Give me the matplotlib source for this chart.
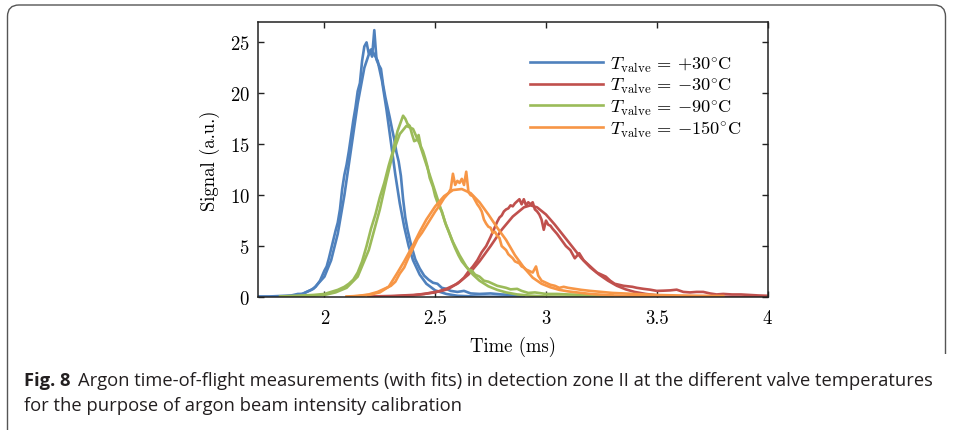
import numpy as np
import matplotlib.pyplot as plt
from matplotlib.patches import FancyBboxPatch
from matplotlib.ticker import FormatStrFormatter

plt.rcParams['font.family'] = 'serif'
plt.rcParams['font.serif'] = ['cmr10']
plt.rcParams['mathtext.fontset'] = 'cm'
plt.rcParams['axes.formatter.use_mathtext'] = True

# measured time-of-flight traces: columns are time (ms), signal (a.u.)
meas_p30 = np.array([
    [1.70, 0.05], [1.75, 0.05], [1.80, 0.1], [1.85, 0.15], [1.88, 0.3], [1.90, 0.3],
    [1.92, 0.5], [1.94, 0.7], [1.96, 1.0], [1.98, 1.6], [2.00, 2.6], [2.01, 3.0],
    [2.02, 3.8], [2.03, 4.7], [2.04, 5.6], [2.05, 6.5], [2.06, 7.3], [2.07, 8.6],
    [2.08, 10.6], [2.09, 12.0], [2.10, 13.0], [2.11, 14.3], [2.12, 15.8], [2.13, 17.3],
    [2.14, 18.6], [2.15, 20.2], [2.16, 21.0], [2.17, 23.2], [2.18, 24.6], [2.19, 25.0],
    [2.20, 23.9], [2.21, 24.3], [2.215, 23.6], [2.225, 26.2], [2.235, 23.3], [2.245, 22.8],
    [2.255, 22.4], [2.265, 20.8], [2.275, 19.6], [2.285, 18.6], [2.295, 17.6], [2.305, 16.5],
    [2.315, 15.5], [2.325, 14.2], [2.335, 13.3], [2.345, 11.9], [2.355, 9.6], [2.365, 7.8],
    [2.375, 6.6], [2.39, 5.2], [2.41, 3.7], [2.43, 2.8], [2.45, 2.1], [2.47, 1.7],
    [2.49, 1.4], [2.51, 1.3], [2.53, 0.9], [2.55, 0.8], [2.57, 0.6], [2.60, 0.5],
    [2.63, 0.6], [2.66, 0.35], [2.70, 0.3], [2.75, 0.35], [2.80, 0.25], [2.85, 0.2],
    [2.90, 0.15]])

meas_m30 = np.array([
    [2.20, 0.05], [2.30, 0.1], [2.40, 0.2], [2.45, 0.3], [2.50, 0.5], [2.53, 0.6],
    [2.56, 0.8], [2.59, 1.2], [2.61, 1.5], [2.63, 1.9], [2.65, 2.5], [2.67, 3.0],
    [2.69, 3.6], [2.71, 4.4], [2.73, 5.0], [2.75, 5.9], [2.76, 6.4], [2.77, 6.9],
    [2.78, 7.4], [2.79, 7.8], [2.80, 8.0], [2.81, 8.4], [2.82, 8.6], [2.83, 8.7],
    [2.84, 9.0], [2.85, 8.9], [2.86, 9.2], [2.87, 9.4], [2.88, 9.6], [2.89, 9.1],
    [2.90, 9.6], [2.91, 9.0], [2.92, 9.3], [2.93, 9.1], [2.94, 9.3], [2.95, 8.6],
    [2.96, 8.4], [2.97, 8.1], [2.98, 7.6], [2.99, 6.6], [3.00, 7.5], [3.01, 7.1],
    [3.02, 7.0], [3.03, 6.7], [3.05, 6.2], [3.07, 5.6], [3.09, 5.0], [3.11, 4.6],
    [3.13, 3.8], [3.15, 4.3], [3.17, 3.6], [3.19, 3.2], [3.21, 2.8], [3.23, 2.4],
    [3.25, 2.2], [3.27, 2.0], [3.29, 1.6], [3.31, 1.3], [3.33, 1.2], [3.35, 1.1],
    [3.37, 1.05], [3.39, 1.0], [3.41, 0.9], [3.44, 0.8], [3.47, 0.72], [3.50, 0.6],
    [3.53, 0.62], [3.56, 0.65], [3.59, 0.72], [3.62, 0.5], [3.65, 0.45], [3.68, 0.5],
    [3.71, 0.5], [3.74, 0.35], [3.77, 0.25], [3.80, 0.3], [3.84, 0.25], [3.88, 0.25],
    [3.92, 0.2], [3.96, 0.15], [4.00, 0.12]])

meas_m90 = np.array([
    [1.80, 0.05], [1.85, 0.1], [1.90, 0.15], [1.95, 0.2], [2.00, 0.3], [2.03, 0.5],
    [2.06, 0.7], [2.09, 1.0], [2.11, 1.3], [2.13, 1.7], [2.15, 2.4], [2.17, 3.5],
    [2.19, 5.0], [2.21, 6.7], [2.23, 8.1], [2.25, 9.8], [2.27, 11.2], [2.29, 12.9],
    [2.31, 14.4], [2.33, 16.3], [2.345, 17.2], [2.355, 17.8], [2.365, 17.5], [2.375, 17.0],
    [2.385, 16.8], [2.395, 16.0], [2.405, 15.3], [2.415, 15.4], [2.425, 15.9], [2.435, 14.8],
    [2.445, 14.3], [2.455, 13.6], [2.465, 12.8], [2.475, 11.7], [2.49, 10.8], [2.50, 9.9],
    [2.515, 9.0], [2.53, 8.4], [2.545, 7.3], [2.56, 6.5], [2.575, 5.6], [2.59, 4.8],
    [2.605, 4.1], [2.62, 3.5], [2.635, 3.1], [2.65, 2.7], [2.665, 2.6], [2.68, 2.2],
    [2.70, 2.0], [2.72, 1.6], [2.74, 1.5], [2.76, 1.3], [2.78, 1.1], [2.80, 1.0],
    [2.82, 0.9], [2.84, 0.75], [2.87, 0.8], [2.89, 0.6], [2.92, 0.4], [2.95, 0.45],
    [3.00, 0.3], [3.05, 0.3], [3.10, 0.25], [3.20, 0.2], [3.30, 0.15]])

meas_m150 = np.array([
    [2.10, 0.05], [2.15, 0.1], [2.20, 0.25], [2.24, 0.5], [2.27, 0.8], [2.30, 1.1],
    [2.32, 1.5], [2.34, 2.3], [2.36, 2.9], [2.38, 3.9], [2.40, 4.8], [2.42, 5.7],
    [2.44, 6.3], [2.46, 7.0], [2.48, 7.7], [2.50, 8.4], [2.52, 9.0], [2.54, 9.7],
    [2.56, 10.2], [2.57, 10.6], [2.58, 12.1], [2.59, 11.0], [2.60, 11.4], [2.61, 11.2],
    [2.62, 11.6], [2.63, 11.0], [2.64, 12.3], [2.65, 10.3], [2.66, 10.0], [2.67, 9.9],
    [2.68, 9.5], [2.69, 9.1], [2.70, 8.8], [2.71, 8.4], [2.72, 7.6], [2.73, 7.2],
    [2.74, 6.9], [2.75, 6.8], [2.76, 6.3], [2.77, 6.4], [2.78, 6.0], [2.79, 5.8],
    [2.80, 5.0], [2.81, 4.8], [2.82, 4.6], [2.83, 4.2], [2.84, 4.0], [2.85, 3.8],
    [2.86, 3.5], [2.87, 3.4], [2.88, 3.3], [2.89, 3.0], [2.90, 2.9], [2.91, 2.7],
    [2.92, 2.6], [2.93, 2.5], [2.94, 2.4], [2.955, 3.0], [2.965, 2.1], [2.98, 1.6],
    [3.00, 1.4], [3.02, 1.2], [3.04, 1.1], [3.06, 0.9], [3.08, 1.0], [3.10, 0.9],
    [3.13, 0.8], [3.16, 0.7], [3.20, 0.6], [3.25, 0.5], [3.30, 0.4], [3.35, 0.35],
    [3.40, 0.3], [3.45, 0.25], [3.50, 0.2], [3.60, 0.15], [3.70, 0.12], [3.80, 0.1]])

# fitted curves
fit_p30 = np.array([
    [1.70, 0.0], [1.80, 0.02], [1.85, 0.1], [1.90, 0.3], [1.95, 0.8], [2.00, 2.0],
    [2.03, 3.6], [2.06, 6.2], [2.09, 10.0], [2.12, 14.5], [2.15, 19.0], [2.18, 22.5],
    [2.20, 23.8], [2.22, 24.0], [2.24, 23.2], [2.26, 21.2], [2.28, 18.4], [2.30, 15.2],
    [2.32, 12.0], [2.34, 9.2], [2.36, 6.9], [2.38, 5.0], [2.40, 3.6], [2.43, 2.2],
    [2.46, 1.3], [2.50, 0.65], [2.55, 0.3], [2.60, 0.12], [2.70, 0.03], [2.90, 0.0]])

fit_m30 = np.array([
    [2.20, 0.0], [2.30, 0.05], [2.40, 0.15], [2.50, 0.45], [2.55, 0.8], [2.60, 1.3],
    [2.65, 2.2], [2.70, 3.5], [2.75, 5.0], [2.80, 6.6], [2.85, 7.9], [2.90, 8.8],
    [2.93, 9.0], [2.96, 8.8], [3.00, 8.1], [3.04, 7.1], [3.08, 6.0], [3.12, 4.9],
    [3.16, 3.8], [3.20, 2.9], [3.24, 2.2], [3.28, 1.6], [3.32, 1.1], [3.36, 0.75],
    [3.40, 0.5], [3.45, 0.3], [3.50, 0.17], [3.60, 0.06], [3.70, 0.02], [4.00, 0.0]])

fit_m90 = np.array([
    [1.80, 0.0], [1.90, 0.05], [2.00, 0.2], [2.05, 0.45], [2.10, 0.9], [2.15, 2.0],
    [2.20, 4.6], [2.25, 8.6], [2.28, 11.5], [2.31, 14.2], [2.34, 16.0], [2.37, 16.8],
    [2.40, 16.5], [2.43, 15.0], [2.46, 13.0], [2.49, 11.0], [2.52, 9.0], [2.55, 7.0],
    [2.58, 5.4], [2.61, 4.1], [2.64, 3.0], [2.67, 2.2], [2.70, 1.6], [2.74, 1.05],
    [2.78, 0.7], [2.82, 0.45], [2.87, 0.25], [2.92, 0.15], [3.00, 0.05], [3.30, 0.0]])

fit_m150 = np.array([
    [2.10, 0.0], [2.20, 0.2], [2.25, 0.45], [2.29, 1.0], [2.33, 2.4], [2.36, 3.5],
    [2.40, 5.1], [2.43, 6.4], [2.46, 7.6], [2.50, 8.9], [2.54, 9.9], [2.58, 10.5],
    [2.62, 10.6], [2.66, 10.2], [2.70, 9.3], [2.74, 8.1], [2.78, 6.8], [2.82, 5.6],
    [2.86, 4.1], [2.90, 2.9], [2.94, 1.9], [2.98, 1.3], [3.02, 0.95], [3.06, 0.7],
    [3.10, 0.55], [3.20, 0.3], [3.30, 0.15], [3.40, 0.08], [3.60, 0.02], [3.80, 0.0]])

labels = [r'$T_\mathrm{valve} \,=\, {+}30^{\circ}\mathrm{C}$',
          r'$T_\mathrm{valve} \,=\, {-}30^{\circ}\mathrm{C}$',
          r'$T_\mathrm{valve} \,=\, {-}90^{\circ}\mathrm{C}$',
          r'$T_\mathrm{valve} \,=\, {-}150^{\circ}\mathrm{C}$']
colors = ['#4f81bd', '#c0504d', '#9bbb59', '#f79646']
measured = [meas_p30, meas_m30, meas_m90, meas_m150]
fits = [fit_p30, fit_m30, fit_m90, fit_m150]

fig = plt.figure(figsize=(9.54, 4.31), dpi=100)
ax = fig.add_axes([258/954, 1-298/431, 509.5/954, 275/431])

for m, f, c, lab in zip(measured, fits, colors, labels):
    ax.plot(m[:, 0], m[:, 1], color=c, lw=1.9, label=lab)
    ax.plot(f[:, 0], f[:, 1], color=c, lw=1.9)

ax.set_xlim(1.7, 4)
ax.set_ylim(0, 27)
ax.set_xticks([2, 2.5, 3, 3.5, 4])
ax.set_yticks([0, 5, 10, 15, 20, 25])
ax.xaxis.set_major_formatter(FormatStrFormatter('%g'))
ax.tick_params(direction='in', top=True, right=True, length=4.5, width=1.0,
               labelsize=13.5, pad=6, color='#222222')
ax.tick_params(axis='x', pad=9)
for sp in ax.spines.values():
    sp.set_linewidth(1.1)
    sp.set_color('#222222')
ax.set_xlabel('Time (ms)', fontsize=13.5, labelpad=6)
ax.set_ylabel('Signal (a.u.)', fontsize=13.5, labelpad=7)

ax.legend(loc='upper left', bbox_to_anchor=(272/509.5, 1 - 32/275), frameon=False,
          fontsize=13.2, handlelength=4.0, handletextpad=0.35, labelspacing=0.1,
          borderaxespad=0, borderpad=0)

# rounded frame around figure and caption
frame = FancyBboxPatch((7.5/954, -0.2), 938/954, 0.2 + 1 - 6/431,
                       boxstyle='round,pad=0,rounding_size=0.012',
                       transform=fig.transFigure, fill=False, ec='#555555', lw=1.0,
                       mutation_aspect=954/431)
fig.patches.append(frame)
# hide the lower part of the right edge
fig.patches.append(plt.Rectangle((940/954, 0), 14/954, 1 - 355/431, transform=fig.transFigure,
                                 fc='white', ec='none', zorder=3))

cap_font = 'Open Sans'
cap_size = 13.2
t1 = fig.text(24/954, 1 - 386/431, 'Fig. 8', fontsize=cap_size, fontweight='bold',
              family=cap_font, color='#231f20', va='baseline')
fig.canvas.draw()
bb = t1.get_window_extent()
fig.text((bb.x1 + 8)/954, 1 - 386/431,
         'Argon time-of-flight measurements (with fits) in detection zone II at the different valve temperatures',
         fontsize=cap_size, family=cap_font, color='#231f20', va='baseline')
fig.text(24/954, 1 - 411/431, 'for the purpose of argon beam intensity calibration',
         fontsize=cap_size, family=cap_font, color='#231f20', va='baseline')

fig.savefig('out.png', dpi=100)
